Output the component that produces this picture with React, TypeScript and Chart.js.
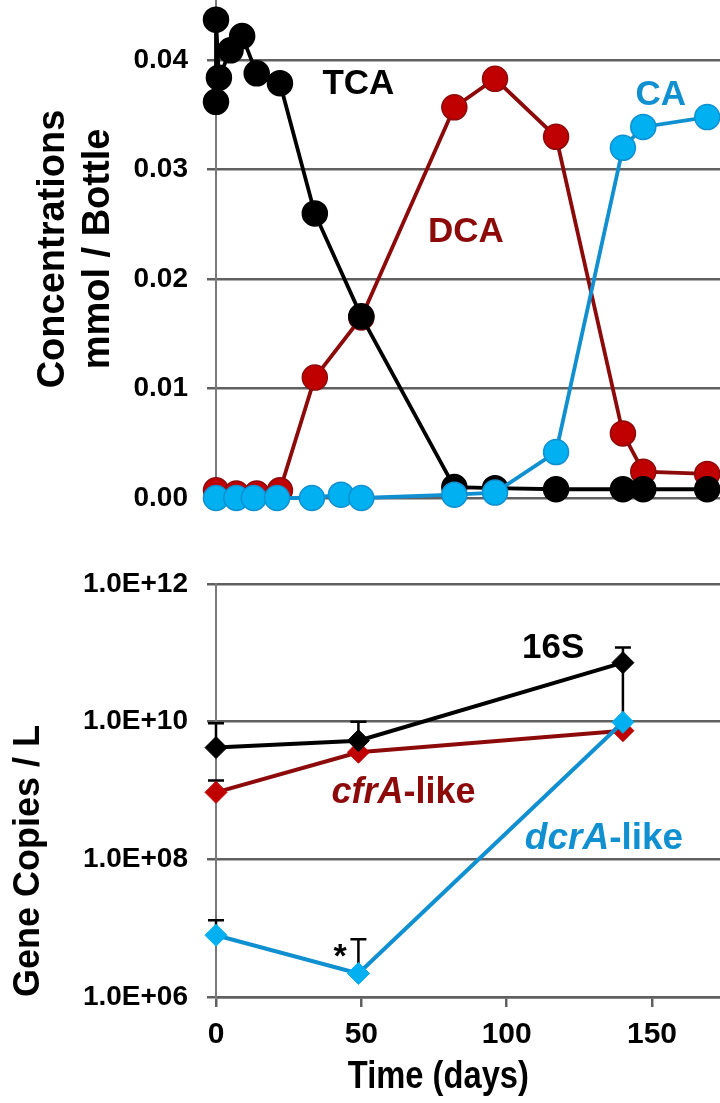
import React, { useEffect, useRef } from 'react';
import { Chart, registerables } from 'chart.js';

Chart.register(...registerables);

const FONT = "'Liberation Sans', Arial, Helvetica, sans-serif";

// ---------- Top panel: concentrations (mmol / bottle) ----------
const tcaDays = [0, 0, 1, 5, 9, 14, 22, 34, 50, 82, 96, 117, 140, 147, 169];
const tcaValues = [0.0362, 0.0437, 0.0384, 0.0409, 0.0422, 0.0388, 0.0379, 0.026, 0.0166, 0.001, 0.0009, 0.0008, 0.0008, 0.0008, 0.0008];

const dcaDays = [0, 7, 14, 22, 34, 50, 82, 96, 117, 140, 147, 169];
const dcaValues = [0.0007, 0.0004, 0.0004, 0.0007, 0.011, 0.0165, 0.0357, 0.0383, 0.033, 0.0059, 0.0024, 0.0022];

const caDays = [0, 7, 13, 21, 33, 43, 50, 82, 96, 117, 140, 147, 169];
const caValues = [0, 0, 0, 0, 0, 0.0003, 0, 0.0003, 0.0005, 0.0042, 0.032, 0.0339, 0.0348];

const concTicks = [0, 0.01, 0.02, 0.03, 0.04];
const dayTicks = [0, 50, 100, 150];

const topLabelTexts = ['TCA', 'DCA', 'CA'];
const topLabelDays = [49, 86, 153];
const topLabelValues = [0.0378, 0.0243, 0.0368];

// ---------- Bottom panel: gene copies / L ----------
const geneDays = [0, 49, 140];
const s16Values = [4.2e9, 5.3e9, 7.2e10];
const s16Upper = [9.5e9, 1.0e10, 1.2e11];
const s16Lower = [null, null, 1.0e10];
const cfrAValues = [9.4e8, 3.6e9, 7.4e9];
const cfrAUpper = [1.4e9, null, null];
const cfrALower = [null, null, null];
const dcrAValues = [7.9e6, 2.2e6, 9.8e9];
const dcrAUpper = [1.3e7, 6.9e6, null];
const dcrALower = [null, null, null];

const geneTicks = [1e6, 1e8, 1e10, 1e12];

const bottomLabelDays = [116, 64.5, 133.5, 42.7];
const bottomLabelValues = [1.15e11, 9.1e8, 2.0e8, 3.7e6];

const xTitleText = 'Time (days)';
const xTitleDay = 76.5;

// ---------- colours ----------
const BLACK = '#000000';
const RED_LINE = '#8c0a0a';
const RED_FILL = '#c00000';
const BLUE_LINE = '#1090d0';
const BLUE_FILL = '#00b0f0';
const GRID = '#606060';
const AXIS = '#7a7a7a';

const textPlugin = {
  id: 'textLabels',
  afterDatasetsDraw(chart: any, _args: any, opts: any) {
    const { ctx } = chart;
    const xs = chart.scales.x;
    const ys = chart.scales.y;
    ctx.save();
    for (const item of opts.items || []) {
      const px = xs.getPixelForValue(item.x);
      const py = ys.getPixelForValue(item.y);
      const widths: number[] = [];
      let total = 0;
      for (const p of item.parts) {
        ctx.font = `${p.italic ? 'italic ' : ''}bold ${item.size}px ${FONT}`;
        const w = ctx.measureText(p.text).width;
        widths.push(w);
        total += w;
      }
      let cx = px - total / 2;
      ctx.fillStyle = item.color;
      ctx.textBaseline = 'middle';
      ctx.textAlign = 'left';
      item.parts.forEach((p: any, i: number) => {
        ctx.font = `${p.italic ? 'italic ' : ''}bold ${item.size}px ${FONT}`;
        ctx.fillText(p.text, cx, py);
        cx += widths[i];
      });
    }
    ctx.restore();
  },
};

const xTitlePlugin = {
  id: 'xTitle',
  afterDraw(chart: any, _args: any, opts: any) {
    if (!opts || !opts.text) return;
    const { ctx } = chart;
    const px = chart.scales.x.getPixelForValue(opts.day);
    ctx.save();
    ctx.translate(px, chart.height - opts.fromBottom);
    ctx.scale(opts.squeeze, 1);
    ctx.font = opts.font;
    ctx.fillStyle = '#000';
    ctx.textAlign = 'center';
    ctx.textBaseline = 'middle';
    ctx.fillText(opts.text, 0, 0);
    ctx.restore();
  },
};

const errorPlugin = {
  id: 'errorBars',
  beforeDatasetsDraw(chart: any, _args: any, opts: any) {
    const { ctx } = chart;
    const xs = chart.scales.x;
    const ys = chart.scales.y;
    ctx.save();
    for (const s of opts.series || []) {
      ctx.strokeStyle = s.color;
      ctx.lineWidth = 2.5;
      s.days.forEach((d: number, i: number) => {
        const px = xs.getPixelForValue(d);
        const py = ys.getPixelForValue(s.values[i]);
        [s.upper[i], s.lower[i]].forEach((lim: number | null) => {
          if (lim == null) return;
          const ly = ys.getPixelForValue(lim);
          ctx.beginPath();
          ctx.moveTo(px, py);
          ctx.lineTo(px, ly);
          ctx.moveTo(px - 8, ly);
          ctx.lineTo(px + 8, ly);
          ctx.stroke();
        });
      });
    }
    ctx.restore();
  },
};

const pts = (xs: number[], ys: number[]) => xs.map((x, i) => ({ x, y: ys[i] }));

const sci = (v: number) => {
  const e = Math.round(Math.log10(v));
  return '1.0E+' + String(e).padStart(2, '0');
};

export default function App() {
  const topRef = useRef<HTMLCanvasElement>(null);
  const botRef = useRef<HTMLCanvasElement>(null);

  useEffect(() => {
    const tickFont = { family: FONT, size: 28, weight: 'bold' as const };
    const xTickFont = { family: FONT, size: 30, weight: 'bold' as const };

    const circle = (line: string, fill: string, order: number, d: number[], v: number[]) => ({
      data: pts(d, v),
      borderColor: line,
      backgroundColor: fill,
      pointBackgroundColor: fill,
      pointBorderColor: line,
      pointRadius: 12.5,
      pointBorderWidth: 1.5,
      borderWidth: 3.8,
      order,
      clip: false as const,
    });

    const top = new Chart(topRef.current as HTMLCanvasElement, {
      type: 'line',
      data: {
        datasets: [
          circle(BLUE_LINE, BLUE_FILL, 0, caDays, caValues),
          circle(BLACK, BLACK, 1, tcaDays, tcaValues),
          circle(RED_LINE, RED_FILL, 2, dcaDays, dcaValues),
        ],
      },
      options: {
        responsive: false,
        animation: false,
        layout: { autoPadding: false, padding: { top: 0, right: 0, bottom: 42, left: 0 } },
        plugins: {
          legend: { display: false },
          tooltip: { enabled: false },
          textLabels: {
            items: topLabelTexts.map((t, i) => ({
              parts: [{ text: t }],
              x: topLabelDays[i],
              y: topLabelValues[i],
              size: 35,
              color: [BLACK, RED_LINE, BLUE_LINE][i],
            })),
          },
        } as any,
        scales: {
          x: { type: 'linear', display: false, min: 0, max: 173.4 },
          y: {
            type: 'linear',
            min: 0,
            max: 0.0455,
            afterBuildTicks: (s: any) => {
              s.ticks = concTicks.map((v) => ({ value: v }));
            },
            afterFit: (s: any) => {
              s.width = 216;
              s.paddingTop = 0;
              s.paddingBottom = 0;
            },
            ticks: {
              callback: (v: any) => Number(v).toFixed(2),
              font: tickFont,
              color: '#000',
              padding: 19,
            },
            grid: { color: GRID, lineWidth: 2.5, tickLength: 9, drawTicks: true },
            border: { display: true, color: AXIS, width: 2 },
            title: {
              display: true,
              text: ['Concentrations', 'mmol / Bottle'],
              font: { family: FONT, size: 38, weight: 'bold', lineHeight: 1.18 },
              color: '#000',
              padding: { top: 31, bottom: 0 },
            },
          },
        },
      },
      plugins: [textPlugin],
    });

    const diamond = (line: string, fill: string, order: number, v: number[]) => ({
      data: pts(geneDays, v),
      borderColor: line,
      backgroundColor: fill,
      pointBackgroundColor: fill,
      pointBorderColor: fill,
      pointStyle: 'rectRot' as const,
      pointRadius: 11,
      pointBorderWidth: 1,
      borderWidth: 4,
      order,
      clip: false as const,
    });

    const bottom = new Chart(botRef.current as HTMLCanvasElement, {
      type: 'line',
      data: {
        datasets: [
          diamond(BLUE_LINE, BLUE_FILL, 0, dcrAValues),
          diamond(BLACK, BLACK, 1, s16Values),
          diamond(RED_LINE, RED_FILL, 2, cfrAValues),
        ],
      },
      options: {
        responsive: false,
        animation: false,
        layout: { autoPadding: false, padding: { top: 44, right: 0, bottom: 0, left: 0 } },
        plugins: {
          legend: { display: false },
          tooltip: { enabled: false },
          errorBars: {
            series: [
              { days: geneDays, values: s16Values, upper: s16Upper, lower: s16Lower, color: BLACK },
              { days: geneDays, values: cfrAValues, upper: cfrAUpper, lower: cfrALower, color: BLACK },
              { days: geneDays, values: dcrAValues, upper: dcrAUpper, lower: dcrALower, color: BLACK },
            ],
          },
          textLabels: {
            items: [
              { parts: [{ text: '16S' }], x: bottomLabelDays[0], y: bottomLabelValues[0], size: 35, color: BLACK },
              { parts: [{ text: 'cfrA', italic: true }, { text: '-like' }], x: bottomLabelDays[1], y: bottomLabelValues[1], size: 36, color: RED_LINE },
              { parts: [{ text: 'dcrA', italic: true }, { text: '-like' }], x: bottomLabelDays[2], y: bottomLabelValues[2], size: 37, color: BLUE_LINE },
              { parts: [{ text: '*' }], x: bottomLabelDays[3], y: bottomLabelValues[3], size: 34, color: BLACK },
            ],
          },
          xTitle: { text: xTitleText, day: xTitleDay, fromBottom: 25, font: `bold 38px ${FONT}`, squeeze: 0.86 },
        } as any,
        scales: {
          x: {
            type: 'linear',
            min: 0,
            max: 173.4,
            afterBuildTicks: (s: any) => {
              s.ticks = dayTicks.map((v) => ({ value: v }));
            },
            afterFit: (s: any) => {
              s.height = 106;
              s.paddingLeft = 0;
              s.paddingRight = 0;
            },
            ticks: {
              font: xTickFont,
              color: '#000',
              padding: 10,
              maxRotation: 0,
              autoSkip: false,
            },
            grid: { drawOnChartArea: false, drawTicks: true, tickLength: 10, color: GRID, lineWidth: 2.5 },
            border: { display: true, color: GRID, width: 2.5 },
          },
          y: {
            type: 'logarithmic',
            min: 1e6,
            max: 1e12,
            afterBuildTicks: (s: any) => {
              s.ticks = geneTicks.map((v) => ({ value: v }));
            },
            afterFit: (s: any) => {
              s.width = 216;
              s.paddingTop = 0;
              s.paddingBottom = 0;
            },
            ticks: {
              callback: (v: any) => sci(Number(v)),
              font: tickFont,
              color: '#000',
              padding: 19,
            },
            grid: { color: GRID, lineWidth: 2.5, tickLength: 9, drawTicks: true },
            border: { display: true, color: AXIS, width: 2 },
            title: {
              display: true,
              text: 'Gene Copies / L',
              align: 'start',
              font: { family: FONT, size: 36, weight: 'bold', lineHeight: 1.18 },
              color: '#000',
              padding: { top: 8, bottom: 0 },
            },
          },
        },
      },
      plugins: [errorPlugin, textPlugin, xTitlePlugin],
    });

    return () => {
      top.destroy();
      bottom.destroy();
    };
  }, []);

  return (
    <div style={{ position: 'absolute', left: 0, top: 0, width: 720, height: 1103, background: '#ffffff', overflow: 'hidden' }}>
      <canvas ref={topRef} width={720} height={540} style={{ position: 'absolute', left: 0, top: 0, width: 720, height: 540 }} />
      <canvas ref={botRef} width={720} height={563} style={{ position: 'absolute', left: 0, top: 540, width: 720, height: 563 }} />
    </div>
  );
}
